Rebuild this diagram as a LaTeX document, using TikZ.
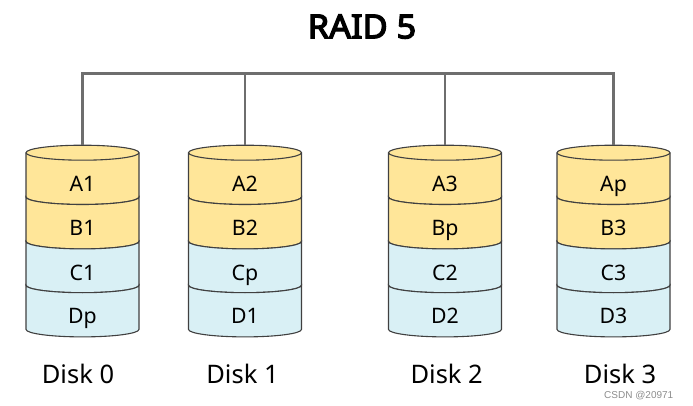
\documentclass[tikz,border=0pt]{standalone}
\usepackage{fontspec}
\setmainfont{Noto Sans}
\newfontfamily\titlefont[FakeBold=4,FakeStretch=1.04]{Noto Sans}
\newfontfamily\markfont{Liberation Sans}
\definecolor{dataA}{HTML}{FFE699}
\definecolor{dataB}{HTML}{D9F0F5}
\definecolor{rim}{HTML}{404040}
\definecolor{busgray}{HTML}{6E6E6E}

\begin{document}
\begin{tikzpicture}[x=1pt,y=-1pt,
		seg/.style={draw=rim,line width=1.1pt},
		busline/.style={draw=busgray,line width=2.6pt},
		lbl/.style={anchor=base,font=\fontsize{21.3}{24}\selectfont},
		disklbl/.style={anchor=base,inner sep=0pt,text depth=0pt,font=\fontsize{25.5}{28}\selectfont}]
	\useasboundingbox (0,0) rectangle (693,406);
	\node[anchor=base,font=\titlefont\fontsize{33}{40}\selectfont] (title) at (362,38.3) {RAID 5};

	\foreach \n/\x/\a/\b/\c/\d/\lx in {0/82.5/A1/B1/C1/Dp/78,1/245/A2/B2/Cp/D1/242.5,2/445/A3/Bp/C2/D2/446.7,3/613.5/Ap/B3/C3/D3/620}{
		\coordinate (top\n) at (\x,145.2);
		\coordinate (bus\n) at (\x,73.3);
		\filldraw[seg,fill=dataA] (\x-56.5,152.7) arc[start angle=180,end angle=0,x radius=56.5pt,y radius=7.5pt] -- (\x+56.5,197) arc[start angle=0,end angle=-180,x radius=56.5pt,y radius=7.5pt] -- cycle;
		\draw[seg] (\x-56.5,152.7) arc[start angle=180,end angle=360,x radius=56.5pt,y radius=7.5pt];
		\filldraw[seg,fill=dataA] (\x-56.5,197) arc[start angle=180,end angle=360,x radius=56.5pt,y radius=7.5pt] -- (\x+56.5,241.4) arc[start angle=0,end angle=-180,x radius=56.5pt,y radius=7.5pt] -- cycle;
		\filldraw[seg,fill=dataB] (\x-56.5,241.4) arc[start angle=180,end angle=360,x radius=56.5pt,y radius=7.5pt] -- (\x+56.5,285.2) arc[start angle=0,end angle=-180,x radius=56.5pt,y radius=7.5pt] -- cycle;
		\filldraw[seg,fill=dataB] (\x-56.5,285.2) arc[start angle=180,end angle=360,x radius=56.5pt,y radius=7.5pt] -- (\x+56.5,329.4) arc[start angle=0,end angle=-180,x radius=56.5pt,y radius=7.5pt] -- cycle;
		\node[lbl] (a\n) at (\x,191.3) {\a};
		\node[lbl] (b\n) at (\x,235.6) {\b};
		\node[lbl] (c\n) at (\x,280) {\c};
		\node[lbl] (d\n) at (\x,323.8) {\d};
		\node[disklbl] (name\n) at (\lx,383.3) {Disk \n};
	}

	\draw[busline] (top0) -- (bus0) -- (bus3) -- (top3);
	\draw[busline] (bus1) -- (top1);
	\draw[busline] (bus2) -- (top2);

	\node[anchor=base west,inner sep=0pt,font=\markfont\fontsize{10}{12}\selectfont,text=black!45] (mark) at (604,398) {CSDN @20971};
\end{tikzpicture}
\end{document}
